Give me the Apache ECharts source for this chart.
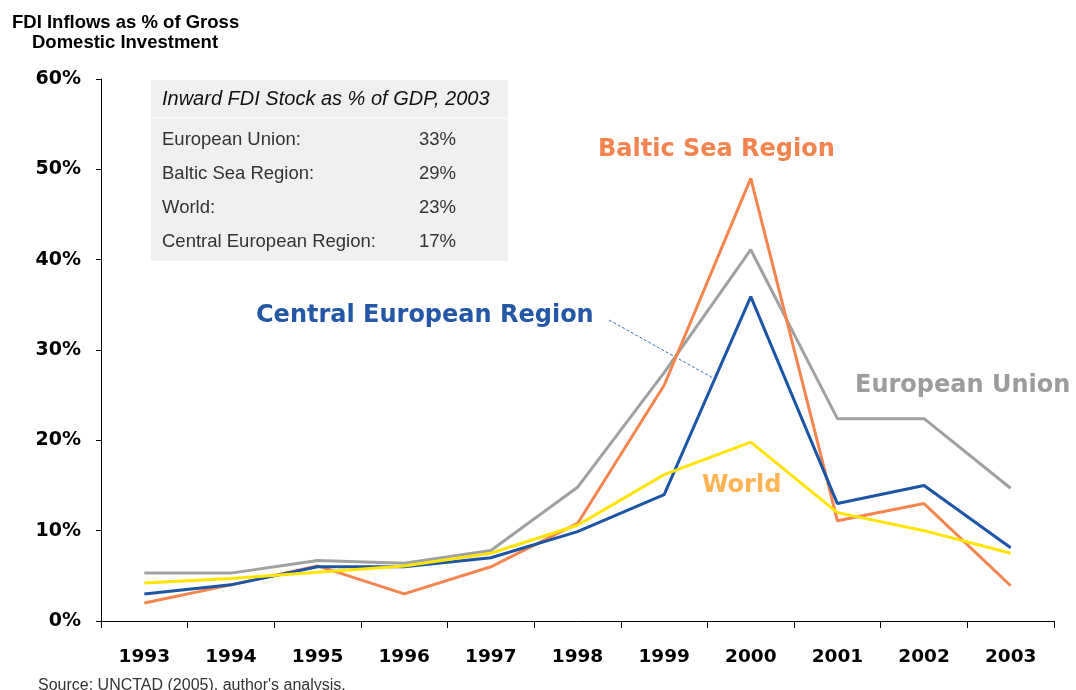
<!DOCTYPE html>
<html lang="en">
<head>
  <meta charset="UTF-8">
  <script src="https://cdn.jsdelivr.net/npm/echarts@6/dist/echarts.min.js"></script>
  <title>FDI Inflows</title>
  <style>
    html, body { margin: 0; padding: 0; background: #fff; }
  </style>
</head>
<body>
  <div id="chart" style="width: 1076px;height:690px;"></div>

  <script>
    // years on the x axis
    var years = ['1993', '1994', '1995', '1996', '1997', '1998', '1999', '2000', '2001', '2002', '2003'];

    // FDI inflows as % of gross domestic investment
    var europeanUnion = [5.3, 5.3, 6.7, 6.4, 7.8, 14.8, 27.5, 41.1, 22.4, 22.4, 14.7];
    var balticSea     = [2.0, 4.0, 6.1, 3.0, 6.0, 10.8, 26.1, 49.0, 11.1, 13.0, 3.9];
    var centralEurope = [3.0, 4.0, 6.0, 6.0, 7.0, 9.9, 14.0, 35.9, 13.0, 15.0, 8.1];
    var world         = [4.2, 4.7, 5.4, 6.1, 7.5, 10.6, 16.2, 19.8, 12.0, 10.0, 7.5];

    // inset table: inward FDI stock as % of GDP, 2003
    var stockNames  = ['European Union:', 'Baltic Sea Region:', 'World:', 'Central European Region:'];
    var stockValues = ['33%', '29%', '23%', '17%'];

    var colors = {
      eu: '#9fa2a1',
      baltic: '#f5854f',
      central: '#1c55a6',
      world: '#ffe500'
    };

    var chart = echarts.init(document.getElementById('chart'));

    function lineSeries(name, data, color) {
      return {
        name: name,
        type: 'line',
        data: data,
        symbol: 'none',
        lineStyle: { color: color, width: 3 },
        itemStyle: { color: color },
        animation: false
      };
    }

    // the inset table
    var tableElems = [
      {
        type: 'rect',
        shape: { x: 151, y: 80, width: 357, height: 181 },
        style: { fill: '#f0f0f0' }
      },
      {
        type: 'line',
        shape: { x1: 151, y1: 118, x2: 508, y2: 118 },
        style: { stroke: '#ffffff', lineWidth: 1 }
      },
      {
        type: 'text',
        x: 162, y: 99,
        style: {
          text: 'Inward FDI Stock as % of GDP, 2003',
          font: 'italic 20px "Liberation Sans", Arial, sans-serif',
          fill: '#111', textVerticalAlign: 'middle'
        }
      }
    ];
    var rowY = [140, 174, 208, 242];
    for (var i = 0; i < stockNames.length; i++) {
      tableElems.push({
        type: 'text', x: 162, y: rowY[i],
        style: {
          text: stockNames[i],
          font: '18.5px "Liberation Sans", Arial, sans-serif',
          fill: '#333', textVerticalAlign: 'middle'
        }
      });
      tableElems.push({
        type: 'text', x: 419, y: rowY[i],
        style: {
          text: stockValues[i],
          font: '18.5px "Liberation Sans", Arial, sans-serif',
          fill: '#333', textVerticalAlign: 'middle'
        }
      });
    }

    var bigFont = 'bold 24px "DejaVu Sans", sans-serif';

    var option = {
      animation: false,
      grid: { left: 101, right: 22, top: 79, bottom: 69 },
      xAxis: {
        type: 'category',
        data: years,
        boundaryGap: true,
        axisLine: { lineStyle: { color: '#000', width: 1 } },
        axisTick: { show: true, interval: 0, length: 7, lineStyle: { color: '#000' } },
        axisLabel: {
          interval: 0, margin: 27, color: '#000',
          fontFamily: 'DejaVu Sans', fontWeight: 'bold', fontSize: 18.5
        }
      },
      yAxis: {
        type: 'value',
        min: 0, max: 60, interval: 10,
        splitLine: { show: false },
        axisLine: { show: true, lineStyle: { color: '#000', width: 1 } },
        axisTick: { show: true, length: 5, lineStyle: { color: '#000' } },
        axisLabel: {
          formatter: '{value}%', margin: 20, color: '#000',
          fontFamily: 'DejaVu Sans', fontWeight: 'bold', fontSize: 19
        }
      },
      series: [
        lineSeries('European Union', europeanUnion, colors.eu),
        lineSeries('Baltic Sea Region', balticSea, colors.baltic),
        lineSeries('Central European Region', centralEurope, colors.central),
        lineSeries('World', world, colors.world)
      ],
      graphic: tableElems.concat([
        {
          type: 'text', x: 12, y: 23,
          style: {
            text: 'FDI Inflows as % of Gross',
            font: 'bold 18.5px "Liberation Sans", Arial, sans-serif',
            fill: '#000', textVerticalAlign: 'middle'
          }
        },
        {
          type: 'text', x: 32, y: 43,
          style: {
            text: 'Domestic Investment',
            font: 'bold 18.5px "Liberation Sans", Arial, sans-serif',
            fill: '#000', textVerticalAlign: 'middle'
          }
        },
        {
          type: 'text', x: 598, y: 150,
          style: { text: 'Baltic Sea Region', font: bigFont, fill: '#f4844f', textVerticalAlign: 'middle' }
        },
        {
          type: 'text', x: 256, y: 316,
          style: { text: 'Central European Region', font: bigFont, fill: '#2457a6', textVerticalAlign: 'middle' }
        },
        {
          type: 'text', x: 855, y: 386,
          style: { text: 'European Union', font: bigFont, fill: '#9a9d9c', textVerticalAlign: 'middle' }
        },
        {
          type: 'text', x: 702, y: 486,
          style: { text: 'World', font: bigFont, fill: '#ffb453', textVerticalAlign: 'middle' }
        },
        {
          type: 'line',
          shape: { x1: 609, y1: 320, x2: 713, y2: 378 },
          style: { stroke: '#3a6fc0', lineWidth: 1, lineDash: [3, 2] }
        },
        {
          type: 'text', x: 38, y: 686,
          style: {
            text: "Source: UNCTAD (2005), author's analysis.",
            font: '16px "Liberation Sans", Arial, sans-serif',
            fill: '#333', textVerticalAlign: 'middle'
          }
        }
      ])
    };

    chart.setOption(option);
  </script>
</body>
</html>
